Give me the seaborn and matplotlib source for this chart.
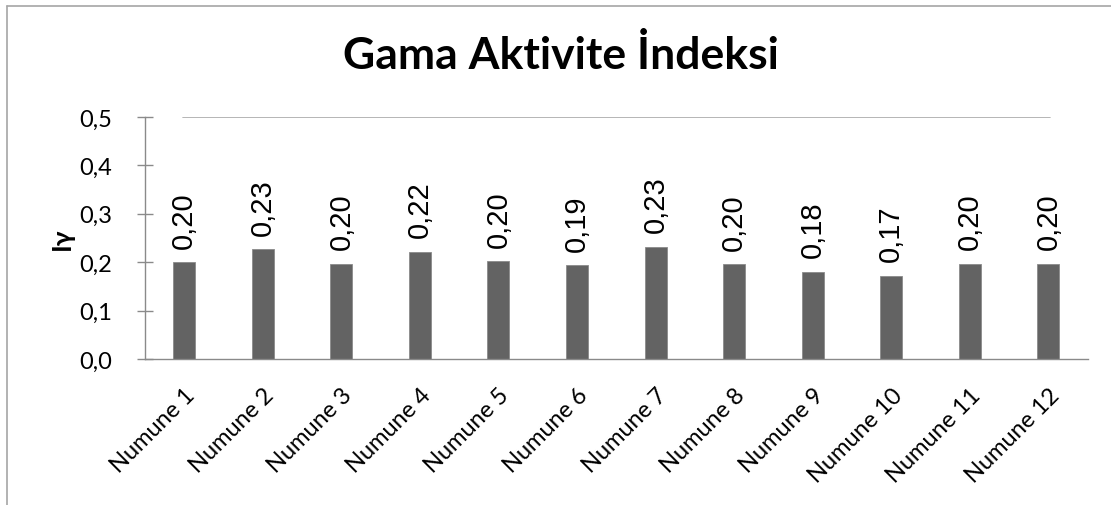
import matplotlib
matplotlib.use("Agg")
import matplotlib.pyplot as plt
from matplotlib.lines import Line2D
import seaborn as sns
import pandas as pd

# Gamma activity index per sample
samples = [f"Numune {i}" for i in range(1, 13)]
values = [0.200, 0.227, 0.197, 0.222, 0.202, 0.194, 0.232, 0.196, 0.180, 0.172, 0.197, 0.197]
y_ticks = [0.0, 0.1, 0.2, 0.3, 0.4, 0.5]

title = "Gama Aktivite İndeksi"
y_label = "Iγ"

df = pd.DataFrame({"sample": samples, "value": values})

sns.set_theme(style="white")
plt.rcParams["font.family"] = ["Lato", "DejaVu Sans"]
plt.rcParams["text.color"] = "black"
plt.rcParams["axes.labelcolor"] = "black"
plt.rcParams["xtick.color"] = "black"
plt.rcParams["ytick.color"] = "black"

fig = plt.figure(figsize=(11.11, 5.06), dpi=100)
ax = fig.add_axes([0.1305, 0.2885, 0.8485, 0.4783])

bar_color = "#636363"
sns.barplot(data=df, x="sample", y="value", color=bar_color, saturation=1,
            width=0.28, ax=ax)
for p in ax.patches:
    p.set_edgecolor("#8a8a8a")
    p.set_linewidth(0.6)

ax.set_ylim(0, 0.5)
ax.set_xlim(-0.5, len(samples) - 0.5)
ax.set_yticks(y_ticks)
ax.set_yticklabels([f"{t:.1f}".replace(".", ",") for t in y_ticks], fontsize=17)
ax.tick_params(axis="y", direction="inout", length=11, width=1, color="#8a8a8a",
               labelcolor="black", left=True, pad=18)
ax.tick_params(axis="x", bottom=False, pad=12, labelcolor="black")
ax.set_xticks(range(len(samples)))
ax.set_xticklabels(samples, rotation=45, ha="right", rotation_mode="anchor",
                   fontsize=17)

# Single gridline at the top value
ax.axhline(0.5, xmin=0.04, xmax=0.96, color="#b0b0b0", lw=1.3, zorder=0)

for side in ["top", "right"]:
    ax.spines[side].set_visible(False)
for side in ["left", "bottom"]:
    ax.spines[side].set_color("#8a8a8a")
    ax.spines[side].set_linewidth(1)

ax.set_xlabel("")
ax.set_ylabel(y_label, fontsize=19, fontweight="bold", labelpad=4)

# Value labels above bars
for i, v in enumerate(values):
    ax.text(i, v + 0.03, f"{v:.2f}".replace(".", ","), rotation=90,
            ha="center", va="bottom", fontsize=21,
            family=["Liberation Sans", "DejaVu Sans"])

fig.text(0.505, 0.891, title, ha="center", va="center", fontsize=32,
         fontweight="bold")

# Chart-area frame lines (top and left)
fig.add_artist(Line2D([6.5 / 1111, 1], [1 - 6.5 / 506, 1 - 6.5 / 506],
                      transform=fig.transFigure, color="#a6a6a6", lw=1.2))
fig.add_artist(Line2D([6.5 / 1111, 6.5 / 1111], [0, 1 - 6.5 / 506],
                      transform=fig.transFigure, color="#a6a6a6", lw=1.2))

fig.savefig("out.png", dpi=100, facecolor="white")
